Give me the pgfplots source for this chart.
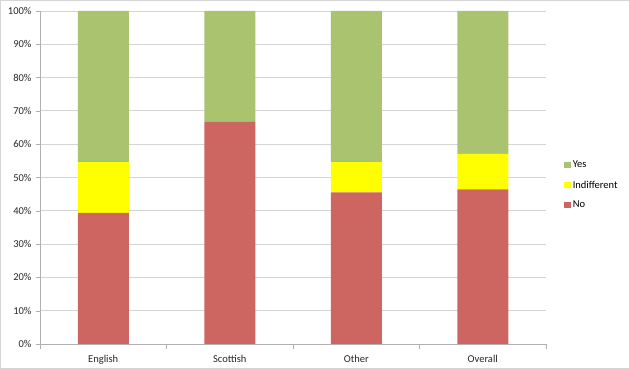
\documentclass[border=0pt]{standalone}
\usepackage{pgfplots}
\pgfplotsset{compat=1.18}
\usepackage{fontspec}
\setmainfont{Carlito}
\definecolor{cyes}{HTML}{AAC36E}
\definecolor{cind}{HTML}{FFFF00}
\definecolor{cno}{HTML}{CD6660}
\definecolor{gridc}{HTML}{D4D4D4}
\definecolor{axc}{HTML}{B0B0B0}
\begin{document}
\begin{tikzpicture}
\useasboundingbox (0pt,0pt) rectangle (630pt,369pt);
\draw[color=gridc,line width=0.8pt] (0.5pt,0.5pt) rectangle (629.5pt,368.5pt);
\begin{axis}[
  at={(40pt,25pt)}, anchor=south west,
  scale only axis, width=506pt, height=333pt,
  ybar stacked, bar width=51pt,
  xmin=-0.5, xmax=3.5, ymin=0, ymax=100,
  axis lines=left, axis line style={color=axc, -},
  xtick={0,1,2,3}, xticklabels={English,Scottish,Other,Overall},
  major x tick style={draw=none},
  minor xtick={-0.5,0.5,1.5,2.5,3.5},
  minor x tick style={color=axc},
  minor tick length=5pt,
  ytick={0,10,...,100},
  yticklabel={\pgfmathprintnumber{\tick}\%},
  /pgf/number format/assume math mode=true,
  y tick style={color=axc},
  major tick length=4pt,
  tick align=outside,
  ymajorgrids, grid style={color=gridc, line width=0.8pt},
  tick label style={font=\fontsize{10.5}{12}\selectfont, color=black!85},
  xticklabel style={yshift=-4pt},
  yticklabel style={xshift=-1pt},
  legend style={at={(1.03,0.477)}, anchor=west, draw=none, fill=none,
    font=\fontsize{10.5}{12}\selectfont, row sep=7.5pt,
    legend cell align=left},
  legend image code/.code={\fill[#1] (0,-3.2pt) rectangle (6.4pt,3.2pt);},
  reverse legend,
]
\addplot[fill=cno, draw=none] coordinates {(0,39.4) (1,66.7) (2,45.5) (3,46.4)};
\addplot[fill=cind, draw=none] coordinates {(0,15.2) (1,0) (2,9.1) (3,10.7)};
\addplot[fill=cyes, draw=none] coordinates {(0,45.4) (1,33.3) (2,45.4) (3,42.9)};
\legend{No,Indifferent,Yes}
\end{axis}
\end{tikzpicture}
\end{document}
